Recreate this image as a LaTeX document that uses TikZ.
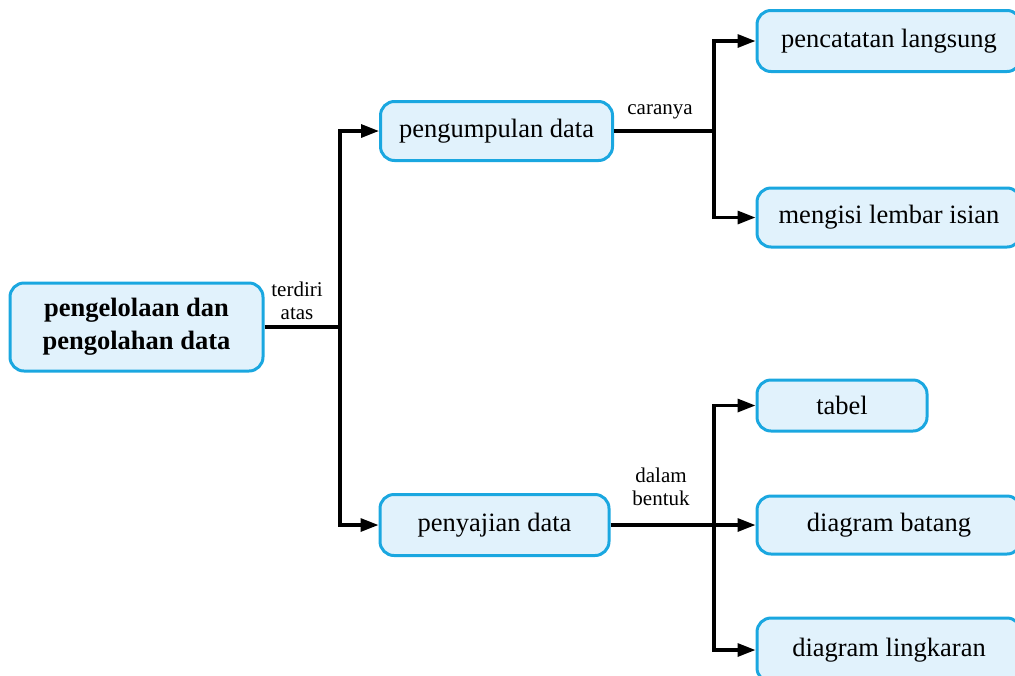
\documentclass[tikz,border=0pt]{standalone}
\usepackage{fontspec}
\setmainfont{Liberation Serif}
\usetikzlibrary{arrows.meta}
\definecolor{boxline}{HTML}{1AA7E0}
\definecolor{boxfill}{HTML}{E1F2FC}
\tikzset{
  box/.style={draw=boxline, fill=boxfill, line width=1.5pt, rounded corners=7pt,
    align=center, inner sep=0pt, font=\fontsize{13.25}{16.5}\selectfont},
  lbl/.style={align=center, inner sep=0pt, font=\fontsize{10.5}{11.5}\selectfont},
  conn/.style={line width=1.6pt, line join=miter},
  arr/.style={conn, -{Triangle[length=9pt,width=6.5pt]}}
}
\begin{document}
\begin{tikzpicture}[x=0.5pt,y=-0.5pt]
\useasboundingbox (0,0) rectangle (1015,675);
\node[box, minimum width=126.5pt, minimum height=44pt, font=\bfseries\fontsize{13.25}{16.5}\selectfont] (root) at (136.5,327) {pengelolaan dan\\pengolahan data};
\node[box, minimum width=116pt, minimum height=29.5pt] (peng) at (496.5,131) {pengumpulan data};
\node[box, minimum width=114.5pt, minimum height=30.5pt] (peny) at (494.5,525) {penyajian data};
\node[box, minimum width=132pt, minimum height=30.5pt] (pcl) at (889,41) {pencatatan langsung};
\node[box, minimum width=132pt, minimum height=29.5pt] (meng) at (889,217.5) {mengisi lembar isian};
\node[box, minimum width=85pt, minimum height=25.5pt] (tabel) at (842,405.5) {tabel};
\node[box, minimum width=132pt, minimum height=29pt] (batang) at (889,525) {diagram batang};
\node[box, minimum width=132pt, minimum height=32pt] (lingk) at (889,650) {diagram lingkaran};
\node[lbl] (l1) at (297,301) {terdiri\\atas};
\node[lbl] (l2) at (660,112) {caranya};
\node[lbl] (l3) at (661,487) {dalam\\bentuk};
\coordinate (j1) at (340,327);
\coordinate (j2) at (714,131);
\coordinate (j3) at (714,525);
\draw[conn] (root.east) -- (j1);
\draw[arr] (j1) |- (peng.west);
\draw[arr] (j1) |- (peny.west);
\draw[conn] (peng.east) -- (j2);
\draw[arr] (j2) |- (pcl.west);
\draw[arr] (j2) |- (meng.west);
\draw[arr] (peny.east) -- (batang.west);
\draw[arr] (j3) |- (tabel.west);
\draw[arr] (j3) |- (lingk.west);
\end{tikzpicture}
\end{document}
